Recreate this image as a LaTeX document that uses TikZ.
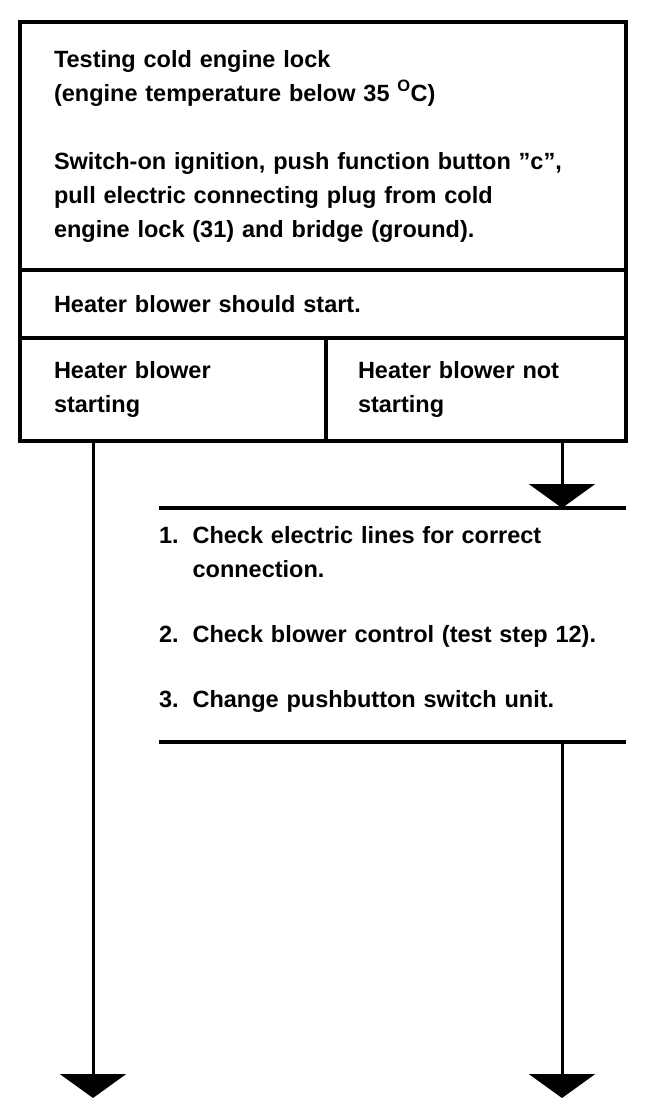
\documentclass[tikz,border=0pt]{standalone}
\usepackage{fontspec}
\setmainfont{Liberation Sans}
\usetikzlibrary{arrows.meta,positioning,calc}
\tikzset{
  cell/.style={
    draw,
    rectangle,
    anchor=north west,
    align=left,
    inner xsep=34pt,
    inner ysep=0pt,
    outer sep=0pt,
    line width=3.5pt,
    font=\bfseries\fontsize{23.5}{34}\selectfont
  },
  steptext/.style={
    anchor=north west,
    align=left,
    inner sep=0pt,
    outer sep=0pt,
    font=\bfseries\fontsize{23.5}{34}\selectfont
  },
  rule/.style={line width=3.5pt},
  flow/.style={-{Triangle[length=24pt,width=66pt]}, line width=3pt}
}

\begin{document}
\begin{tikzpicture}[x=1pt,y=-1pt]
  \useasboundingbox (0,0) rectangle (672,1098);

  \node[cell, text width=538pt, minimum height=248pt] (test) at (20,22)
    {Testing cold engine lock\\
     (engine temperature below 35 \textsuperscript{O}C)\\[34pt]
     Switch-on ignition, push function button ''c'',\\
     pull electric connecting plug from cold\\
     engine lock (31) and bridge (ground).};
  \node[cell, text width=538pt, minimum height=68pt] (expect) at (test.south west)
    {Heater blower should start.\\[6pt]};
  \node[cell, text width=238pt, minimum height=103pt] (yes) at (expect.south west)
    {Heater blower\\ starting\\[8pt]};
  \node[cell, inner xsep=32pt, text width=236pt, minimum height=103pt] (no) at (yes.north east)
    {Heater blower not\\ starting\\[8pt]};

  \node[steptext, text width=467pt, minimum height=234pt] (steps) at (159,508)
    {\begin{tabular}{@{}l@{\hspace{14pt}}l@{}}
     1. & Check electric lines for correct\\
        & connection.\\[31pt]
     2. & Check blower control (test step 12).\\[31pt]
     3. & Change pushbutton switch unit.\\[12pt]
     \end{tabular}};
  \draw[rule] (steps.north west) -- (steps.north east);
  \draw[rule] (steps.south west) -- (steps.south east);

  \coordinate (tapx) at (562,0);
  \coordinate (yesend) at (93,1098);
  \coordinate (noend) at (562,1098);

  \draw[flow] (no.south -| tapx) -- (steps.north -| tapx);
  \draw[flow] (yes.south -| yesend) -- (yesend);
  \draw[flow] (steps.south -| tapx) -- (noend);
\end{tikzpicture}
\end{document}
